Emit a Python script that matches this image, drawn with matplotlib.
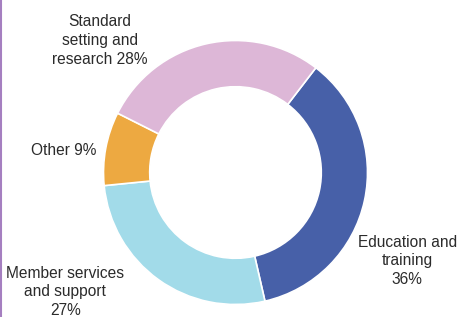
import matplotlib
matplotlib.use('Agg')
import matplotlib.pyplot as plt
from matplotlib.lines import Line2D

# shares of spend, clockwise from the top-right
categories = ['Education and\ntraining\n36%', 'Member services\nand support\n27%',
              'Other 9%', 'Standard\nsetting and\nresearch 28%']
values = [36, 27, 9, 28]
colors = ['#4760a8', '#a2dbe9', '#eda941', '#ddb7d7']

# label anchor points (data units, donut radius = 1)
label_xy = [(1.30, -0.67), (-1.29, -0.905), (-1.30, 0.17), (-1.03, 1.0)]

plt.rcParams['font.family'] = ['Liberation Sans', 'DejaVu Sans']

fig = plt.figure(figsize=(4.61, 3.17), dpi=100)
ax = fig.add_axes([0, 0, 1, 1])

ax.pie(values, colors=colors, startangle=52.5, counterclock=False, radius=1,
       wedgeprops=dict(width=0.35, edgecolor='white', linewidth=1.2))

for txt, (x, y) in zip(categories, label_xy):
    ax.text(x, y, txt, ha='center', va='center', fontsize=11.2,
            color='#2b2b2b', linespacing=1.3)

cx, cy, r = 235.5, 172.5, 132
ax.set_xlim(-cx / r, (461 - cx) / r)
ax.set_ylim(-(317 - cy) / r, cy / r)
ax.set_aspect('equal')
ax.axis('off')

# thin purple rule down the left edge
fig.add_artist(Line2D([0.003, 0.003], [0, 1], color='#a57fc0', lw=1.5))

fig.savefig('out.png', dpi=100)
